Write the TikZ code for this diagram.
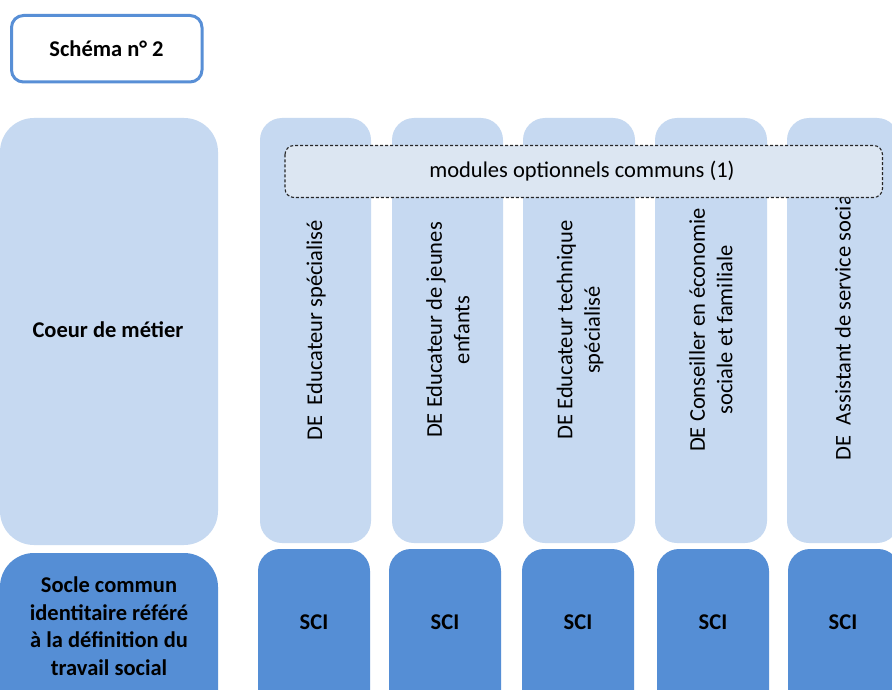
\documentclass[tikz,border=0pt]{standalone}
\usepackage{fontspec}
\setmainfont{Carlito}
\definecolor{lightcol}{RGB}{198,217,241}
\definecolor{dashfill}{RGB}{220,230,242}
\definecolor{sciblue}{RGB}{85,142,213}
\definecolor{frameblue}{RGB}{88,143,214}
\tikzset{
  txt/.style={font=\fontsize{22.5}{27.5}\selectfont, text=black},
  btxt/.style={font=\fontsize{22.5}{27.5}\selectfont\bfseries, text=black},
  colbox/.style={fill=lightcol, draw=none, rounded corners=22pt},
  scibox/.style={fill=sciblue, draw=none, rounded corners=22pt},
}
\begin{document}
\begin{tikzpicture}[x=1pt,y=-1pt]
\useasboundingbox (0,0) rectangle (892,690);
\clip (0,0) rectangle (892,690);
\fill[white] (0,0) rectangle (892,690);

% title box
\draw[frameblue, line width=3pt, fill=white, rounded corners=12pt] (11.5,15.5) rectangle (202,82);
\node[btxt] (title) at (106.5,48.5) {Schéma n° 2};

% left column boxes
\fill[lightcol, rounded corners=34pt] (0,118) rectangle (218,545);
\node[btxt] (coeur) at (108,330) {Coeur de métier};
\fill[sciblue, rounded corners=34pt] (0,553) rectangle (218,740);
\node[btxt, align=center] (socle) at (109,626) {Socle commun\\identitaire référé\\à la définition du\\travail social};

% job columns
\fill[colbox] (260,118) rectangle (371,543);
\fill[colbox] (392,118) rectangle (503,543);
\fill[colbox] (523,118) rectangle (635,543);
\fill[colbox] (655,118) rectangle (767,543);
\fill[colbox] (787,118) rectangle (899,543);

\node[txt, rotate=90, align=center] (c1) at (316,330) {DE\ \ Educateur spécialisé};
\node[txt, rotate=90, align=center] (c2) at (448,330) {DE Educateur de jeunes\\enfants};
\node[txt, rotate=90, align=center] (c3) at (580,330) {DE Educateur technique\\spécialisé};
\node[txt, rotate=90, align=center] (c4) at (711,330) {DE Conseiller en économie\\sociale et familiale};
\node[txt, rotate=90, align=center] (c5) at (843,325) {DE\ \ Assistant de service social};

% dashed module box
\draw[fill=dashfill, draw=black!85, line width=1.1pt, dash pattern=on 3pt off 2pt, rounded corners=9pt] (285,145.5) rectangle (882.5,197.5);
\node[txt] (mod) at (582,171) {modules optionnels communs (1)};

% SCI boxes
\fill[scibox] (258,549) rectangle (370,720);
\fill[scibox] (389,549) rectangle (501,720);
\fill[scibox] (522,549) rectangle (634,720);
\fill[scibox] (657,549) rectangle (769,720);
\fill[scibox] (788,549) rectangle (900,720);
\node[btxt] (s1) at (314,622) {SCI};
\node[btxt] (s2) at (445,622) {SCI};
\node[btxt] (s3) at (578,622) {SCI};
\node[btxt] (s4) at (713,622) {SCI};
\node[btxt] (s5) at (843,622) {SCI};
\end{tikzpicture}
\end{document}
